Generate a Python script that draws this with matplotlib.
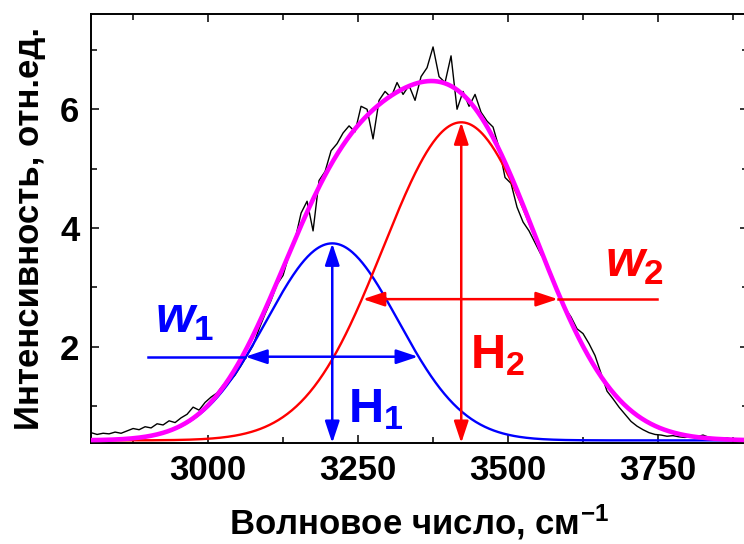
import numpy as np
import matplotlib
matplotlib.use("Agg")
from matplotlib import pyplot as plt
from matplotlib.ticker import MultipleLocator

plt.rcParams['font.family'] = 'Liberation Sans'
plt.rcParams['font.weight'] = 'bold'
plt.rcParams['mathtext.fontset'] = 'custom'
plt.rcParams['mathtext.rm'] = 'Liberation Sans:bold'
plt.rcParams['mathtext.it'] = 'Liberation Sans:italic:bold'
plt.rcParams['mathtext.bf'] = 'Liberation Sans:bold'

# measured spectrum, sampled every 10 cm-1 starting at 2805
spec_start = 2805
spec_step = 10
spec_vals = [
    0.55, 0.52, 0.54, 0.53, 0.56, 0.54, 0.58, 0.62, 0.60, 0.65,
    0.63, 0.70, 0.68, 0.75, 0.72, 0.80, 0.86, 0.98, 0.93, 1.06,
    1.15, 1.22, 1.35, 1.40, 1.52, 1.68, 1.85, 2.02, 2.30, 2.55,
    2.78, 3.05, 3.20, 3.55, 3.80, 4.25, 4.45, 3.95, 4.80, 4.95,
    5.30, 5.42, 5.60, 5.72, 5.62, 6.05, 6.00, 5.50, 6.15, 6.30,
    6.20, 6.45, 6.25, 6.40, 6.15, 6.55, 6.70, 7.05, 6.55, 6.45,
    6.90, 6.00, 6.30, 6.05, 6.25, 5.95, 5.80, 5.70, 5.35, 4.85,
    4.75, 4.35, 4.10, 3.95, 3.75, 3.55, 3.40, 3.15, 2.90, 2.65,
    2.50, 2.30, 2.22, 2.05, 1.85, 1.55, 1.25, 1.12, 0.98, 0.86,
    0.74, 0.66, 0.60, 0.55, 0.52, 0.51, 0.49, 0.50, 0.48, 0.47,
    0.49, 0.48, 0.51, 0.47, 0.46, 0.45, 0.46, 0.44, 0.43, 0.42,
]

# gaussian fit parameters
baseline = 0.42
peak_centers = [3207, 3422]
peak_heights = [3.32, 5.36]
peak_sigmas = [110, 130]
peak_colors = ['blue', 'red']

# width arrows (y level, left tip, right tip, line end)
w_levels = [1.83, 2.80]
w_left = [3062, 3258]
w_right = [3350, 3583]
w_line_ends = [2900, 3748]

x_ticks = [3000, 3250, 3500, 3750]
y_ticks = [2, 4, 6]

fig = plt.figure(figsize=(7.44, 5.44), dpi=100)
ax = fig.add_axes([90.5 / 744, 1 - 443 / 544, (748 - 90.5) / 744, (443 - 14.3) / 544])

spec_x = spec_start + spec_step * np.arange(len(spec_vals))
ax.plot(spec_x, spec_vals, color='black', lw=1.0, zorder=2)

xs = np.linspace(2790, 3910, 600)
total = np.full_like(xs, baseline)
for c, h, s, col in zip(peak_centers, peak_heights, peak_sigmas, peak_colors):
    g = h * np.exp(-0.5 * ((xs - c) / s) ** 2)
    total += g
    ax.plot(xs, baseline + g, color=col, lw=1.7, zorder=3)
ax.plot(xs, total, color='magenta', lw=3.3, zorder=4)

ax.set_xlim(2804, 3900)
ax.set_ylim(0.376, 7.6)

arrow_kw = dict(arrowstyle='<|-|>,head_length=0.6,head_width=0.2',
                mutation_scale=22, lw=1.8, shrinkA=0, shrinkB=0)

# heights
for c, h, col in zip(peak_centers, peak_heights, peak_colors):
    ax.annotate('', xy=(c, baseline + h), xytext=(c, 0.376),
                arrowprops=dict(color=col, **arrow_kw), zorder=5)

# widths
for lev, xl, xr, xe, col in zip(w_levels, w_left, w_right, w_line_ends, peak_colors):
    ax.annotate('', xy=(xr, lev), xytext=(xl, lev),
                arrowprops=dict(color=col, **arrow_kw), zorder=5)
    if xe < xl:
        ax.plot([xe, xl], [lev, lev], color=col, lw=1.8, zorder=5)
    else:
        ax.plot([xr, xe], [lev, lev], color=col, lw=1.8, zorder=5)

ax.text(2912, 2.23, r'$\mathit{w_1}$', color='blue', fontsize=36, va='baseline')
ax.text(3662, 3.17, r'$\mathit{w_2}$', color='red', fontsize=36, va='baseline')
ax.text(3233, 0.73, r'$\mathrm{H_1}$', color='blue', fontsize=35, va='baseline')
ax.text(3437, 1.64, r'$\mathrm{H_2}$', color='red', fontsize=35, va='baseline')

ax.xaxis.set_major_locator(plt.FixedLocator(x_ticks))
ax.xaxis.set_minor_locator(MultipleLocator(125))
ax.yaxis.set_major_locator(plt.FixedLocator(y_ticks))
ax.yaxis.set_minor_locator(MultipleLocator(1))
ax.tick_params(which='both', direction='in', top=True, right=True, width=1.1)
ax.tick_params(which='major', length=6, labelsize=25, pad=8)
ax.tick_params(which='minor', length=4.5)
for sp in ax.spines.values():
    sp.set_linewidth(1.4)

ax.set_xlabel('Волновое число, см$^{-1}$', fontsize=25, fontweight='bold')
ax.xaxis.set_label_coords((419 - 90.5) / (748 - 90.5), -(503 - 443) / (443 - 14.3))
ax.set_ylabel('Интенсивность, отн.ед.', fontsize=25, fontweight='bold', labelpad=10)

fig.savefig('out.png', dpi=100)
